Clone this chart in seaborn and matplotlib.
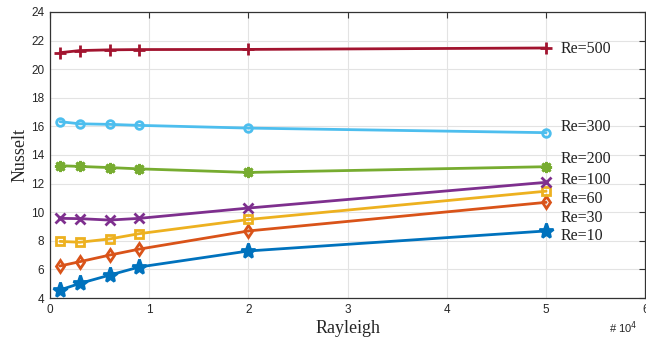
import matplotlib.pyplot as plt
import seaborn as sns
import pandas as pd
from matplotlib.ticker import FuncFormatter

# Rayleigh numbers (x) and Nusselt numbers per Reynolds number
rayleigh = [1000, 3000, 6000, 9000, 20000, 50000]
re_names = ['Re=10', 'Re=30', 'Re=60', 'Re=100', 'Re=200', 'Re=300', 'Re=500']
nu_re10 = [4.56, 5.02, 5.60, 6.17, 7.29, 8.69]
nu_re30 = [6.24, 6.54, 7.00, 7.42, 8.69, 10.69]
nu_re60 = [7.96, 7.90, 8.13, 8.50, 9.49, 11.47]
nu_re100 = [9.57, 9.55, 9.45, 9.57, 10.29, 12.09]
nu_re200 = [13.25, 13.20, 13.12, 13.03, 12.78, 13.18]
nu_re300 = [16.33, 16.18, 16.14, 16.07, 15.88, 15.56]
nu_re500 = [21.15, 21.30, 21.35, 21.37, 21.38, 21.48]

# where each text label sits (Nusselt value)
label_y = [8.34, 9.57, 10.9, 12.25, 13.7, 15.96, 21.4]

colors = ['#0072BD', '#D95319', '#EDB120', '#7E2F8E', '#77AC30', '#4DBEEE', '#A2142F']
markers = ['*', 'd', 's', 'x', (8, 2, 0), 'o', '+']
msizes = [11, 6, 5.5, 6.5, 8, 5.5, 9]
filled = [True, False, False, False, False, False, False]

series = [nu_re10, nu_re30, nu_re60, nu_re100, nu_re200, nu_re300, nu_re500]
rows = []
for name, vals in zip(re_names, series):
    for ra, nu in zip(rayleigh, vals):
        rows.append({'Rayleigh': ra, 'Nusselt': nu, 'Re': name})
df = pd.DataFrame(rows)

sns.set_style('white')
plt.rcParams['font.family'] = ['Liberation Sans', 'DejaVu Sans']

fig = plt.figure(figsize=(6.46, 3.41), dpi=100)
ax = fig.add_axes([0.0774, 0.126, 0.9216, 0.839])

for name, c, m, ms, f, ly in zip(re_names, colors, markers, msizes, filled, label_y):
    sub = df[df['Re'] == name]
    sns.lineplot(data=sub, x='Rayleigh', y='Nusselt', color=c, marker=m,
                 markersize=ms, markeredgewidth=2, markerfacecolor=c if f else 'none',
                 markeredgecolor=c, linewidth=2, ax=ax, legend=False)
    ax.text(51500, ly, name, fontsize=11.5, family='Liberation Serif',
            va='center', ha='left', color='#222222')

ax.set_xlim(0, 60000)
ax.set_ylim(4, 24)
ax.set_xticks(range(0, 60001, 10000))
ax.set_yticks(range(4, 25, 2))
ax.xaxis.set_major_formatter(FuncFormatter(lambda v, p: f'{v / 1e4:g}'))
ax.grid(True, color='#e3e3e3', linewidth=0.8)
ax.tick_params(direction='in', top=True, right=True, labelsize=8.5,
               length=4, width=0.8, color='#333333', pad=4)
for s in ax.spines.values():
    s.set_color('#333333')
    s.set_linewidth(0.9)

ax.set_xlabel('Rayleigh', family='Liberation Serif', fontsize=13, labelpad=3)
ax.set_ylabel('Nusselt', family='Liberation Serif', fontsize=13, labelpad=2)
fig.text(0.943, 0.04, '# 10$^4$', fontsize=8, ha='left', va='center')

plt.savefig('out.png', dpi=100)
plt.close()
